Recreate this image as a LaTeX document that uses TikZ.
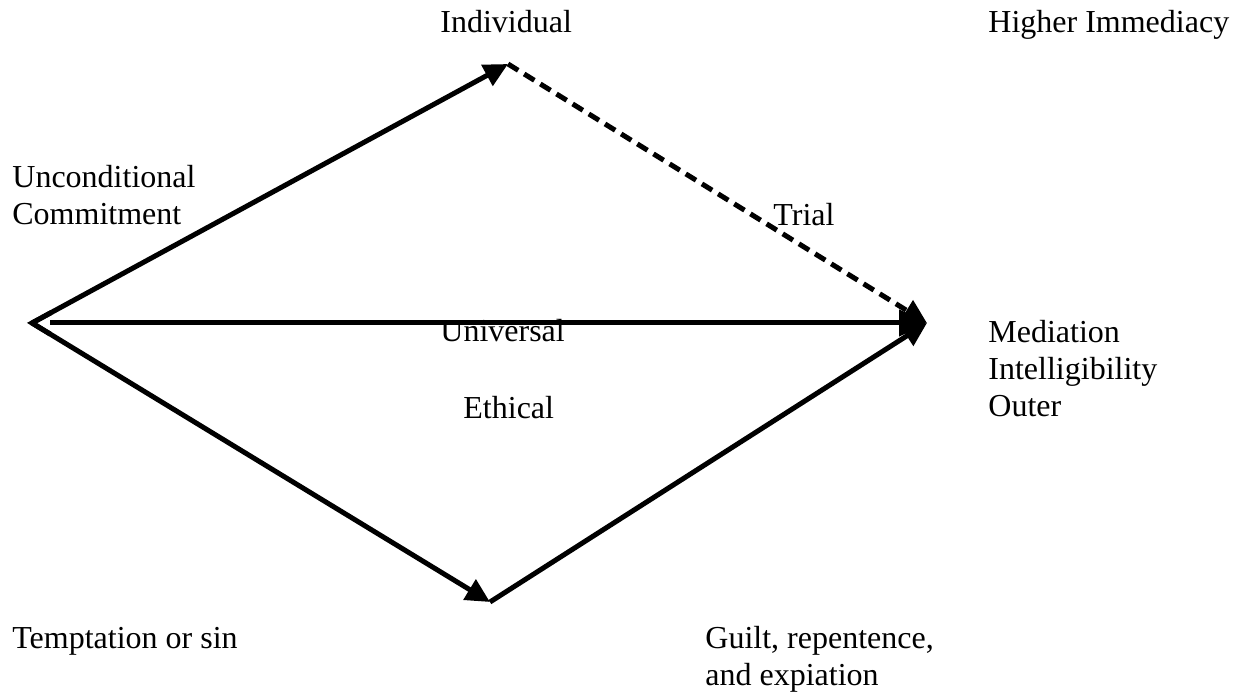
\documentclass[tikz,border=0pt]{standalone}
\usepackage{fontspec}
\setmainfont{Liberation Serif}
\usepackage{tikz}
\usetikzlibrary{arrows.meta,calc,positioning}
\tikzset{%
	label/.style  = {anchor=base west, inner sep=0pt, align=left, font=\fontsize{16pt}{18.5pt}\selectfont},
	arrow/.style  = {line width=2.5pt, -{Triangle[length=12pt,width=11.5pt]}},
	trial/.style  = {arrow, dash pattern=on 6pt off 3.5pt},
}

\begin{document}
\begin{tikzpicture}[x=0.5pt,y=-0.5pt]
	\useasboundingbox (0,0) rectangle (1234,694);
	
	\coordinate (left) at (32,323);
	\coordinate (start) at (50,323);
	\coordinate (top) at (508,64);
	\coordinate (bottom) at (490,602);
	\coordinate (right) at (927,323);
	
	\draw[arrow] (left) -- (top);
	\draw[arrow] (left) -- (bottom);
	\draw[trial,line cap=butt] (top) -- (right);
	\draw[arrow] (bottom) -- (right);
	\draw[arrow,-{Triangle[length=14pt,width=13pt]}] (start) -- (right);
	\draw[line width=2.5pt,line join=miter] ($(left)!0.04!(top)$) -- (left) -- ($(left)!0.04!(bottom)$);
	
	% last line of a multi-line node sits on the given base
	\node[label] (individual) at (440,33) {Individual};
	\node[label] (higher) at (988,33) {Higher Immediacy};
	\node[label] (commitment) at (12,225) {Unconditional\\Commitment};
	\node[label] (trial) at (773,226) {Trial};
	\node[label] (universal) at (440,342) {Universal};
	\node[label] (ethical) at (463,418) {Ethical};
	\node[label] (mediation) at (988,416) {Mediation\\Intelligibility\\Outer};
	\node[label] (temptation) at (12,648) {Temptation or sin};
	\node[label] (guilt) at (705,685) {Guilt, repentence,\\and expiation};
\end{tikzpicture}
\end{document}
